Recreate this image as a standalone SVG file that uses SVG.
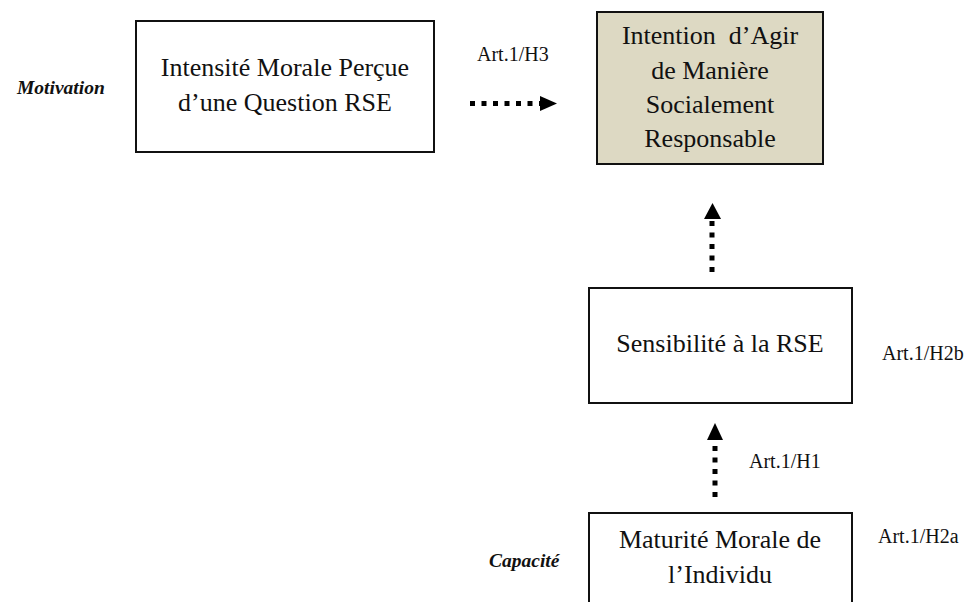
<svg xmlns="http://www.w3.org/2000/svg" width="967" height="602" viewBox="0 0 967 602">
<style>
  .box { fill: #ffffff; stroke: #111111; stroke-width: 2; }
  .goal { fill: #ddd9c3; stroke: #111111; stroke-width: 2; }
  .t { font-family: "Liberation Serif", "Times New Roman", serif; font-size: 26px; fill: #111111; text-anchor: middle; }
  .lab { font-family: "Liberation Serif", "Times New Roman", serif; font-size: 20px; fill: #111111; }
  .cat { font-family: "Liberation Serif", "Times New Roman", serif; font-size: 19.5px; font-weight: bold; font-style: italic; fill: #111111; }
  .dash { stroke: #000000; stroke-width: 5; stroke-dasharray: 5 6.5; fill: none; }
  .head { fill: #000000; }
</style>
<rect width="967" height="602" fill="#ffffff"/>
<g id="node-intensite">
  <rect class="box" x="136" y="21" width="298" height="131"/>
  <text class="t" x="285" y="76">Intensité Morale Perçue</text>
  <text class="t" x="285" y="111">d’une Question RSE</text>
</g>
<g id="node-intention">
  <rect class="goal" x="597" y="12" width="226" height="152"/>
  <text class="t" x="710" y="44" xml:space="preserve">Intention  d’Agir</text>
  <text class="t" x="710" y="79">de Manière</text>
  <text class="t" x="710" y="113">Socialement</text>
  <text class="t" x="710" y="147">Responsable</text>
</g>
<g id="node-sensibilite">
  <rect class="box" x="589" y="288" width="263" height="115"/>
  <text class="t" x="720" y="352">Sensibilité à la RSE</text>
</g>
<g id="node-maturite">
  <rect class="box" x="589" y="513" width="263" height="100"/>
  <text class="t" x="720" y="548">Maturité Morale de</text>
  <text class="t" x="720" y="583">l’Individu</text>
</g>
<g id="labels">
  <text class="cat" x="17" y="94">Motivation</text>
  <text class="cat" x="489" y="567">Capacité</text>
  <text class="lab" x="477" y="61">Art.1/H3</text>
  <text class="lab" x="882" y="360">Art.1/H2b</text>
  <text class="lab" x="749" y="468">Art.1/H1</text>
  <text class="lab" x="878" y="543">Art.1/H2a</text>
</g>
<g id="connectors">
  <line class="dash" x1="470" y1="103.5" x2="540" y2="103.5"/>
  <polygon class="head" points="540,96 557,103.5 540,111"/>
  <line class="dash" x1="712" y1="272" x2="712" y2="220"/>
  <polygon class="head" points="704,219 712.5,203 721,219"/>
  <line class="dash" x1="715" y1="497" x2="715" y2="441"/>
  <polygon class="head" points="707,440 715,423 723,440"/>
</g>
</svg>
